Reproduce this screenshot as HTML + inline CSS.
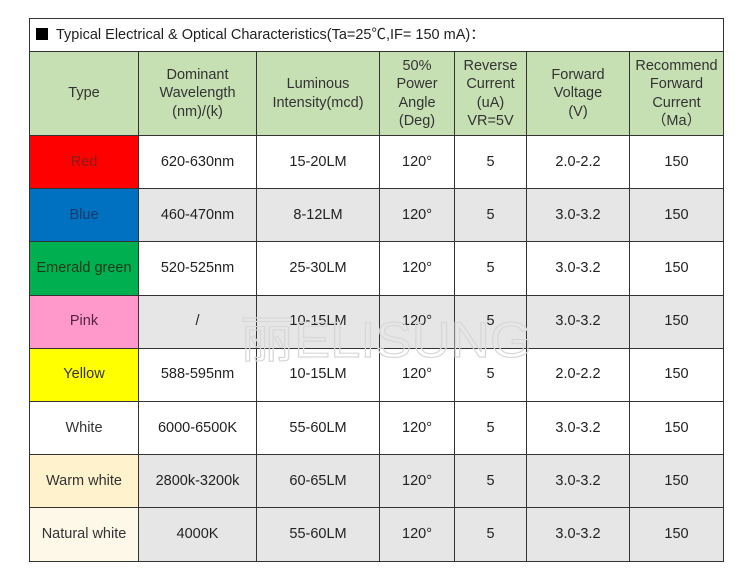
<!DOCTYPE html>
<html><head><meta charset="utf-8"><style>
html,body{margin:0;padding:0;background:#fff;width:750px;height:582px;overflow:hidden;position:relative}
table{position:absolute;left:29px;top:18px;border-collapse:collapse;table-layout:fixed;font-family:"Liberation Sans","Noto Sans CJK SC",sans-serif;color:#222}
td{border:1.5px solid #333;text-align:center;vertical-align:middle;font-size:14px;padding:0;line-height:19px}
.t td{height:32px;text-align:left;font-size:14.5px;padding-left:6px}
.h td{background:#c6e0b4;height:83px;font-size:14.5px;line-height:18.5px;color:#333}
.r td{height:52.2px;font-size:14.5px}
.g td{background:#e6e6e6}
.sq{display:inline-block;width:12px;height:12px;background:#000;margin-right:8px;vertical-align:-1px}
svg{position:absolute;left:0;top:0}
</style></head><body>
<table>
<colgroup><col style="width:109px"><col style="width:118px"><col style="width:123px"><col style="width:75px"><col style="width:72px"><col style="width:103px"><col style="width:94px"></colgroup>
<tr class="t"><td colspan="7"><span class="sq"></span>Typical Electrical &amp; Optical Characteristics(Ta=25℃,IF= 150 mA)：</td></tr>
<tr class="h"><td>Type</td><td>Dominant<br>Wavelength<br>(nm)/(k)</td><td>Luminous<br>Intensity(mcd)</td><td>50%<br>Power<br>Angle<br>(Deg)</td><td>Reverse<br>Current<br>(uA)<br>VR=5V</td><td>Forward<br>Voltage<br>(V)</td><td>Recommend<br>Forward<br>Current<br>（Ma）</td></tr>
<tr class="r"><td style="background:#ff0000;color:#8a1a1a">Red</td><td>620-630nm</td><td>15-20LM</td><td>120°</td><td>5</td><td>2.0-2.2</td><td>150</td></tr>
<tr class="r g"><td style="background:#0070c0;color:#1a3a6a">Blue</td><td>460-470nm</td><td>8-12LM</td><td>120°</td><td>5</td><td>3.0-3.2</td><td>150</td></tr>
<tr class="r"><td style="background:#00b050;color:#1a3a1a">Emerald green</td><td>520-525nm</td><td>25-30LM</td><td>120°</td><td>5</td><td>3.0-3.2</td><td>150</td></tr>
<tr class="r g"><td style="background:#ff99cc;color:#552244">Pink</td><td>/</td><td>10-15LM</td><td>120°</td><td>5</td><td>3.0-3.2</td><td>150</td></tr>
<tr class="r"><td style="background:#ffff00;color:#333">Yellow</td><td>588-595nm</td><td>10-15LM</td><td>120°</td><td>5</td><td>2.0-2.2</td><td>150</td></tr>
<tr class="r"><td style="background:#fff;color:#333">White</td><td>6000-6500K</td><td>55-60LM</td><td>120°</td><td>5</td><td>3.0-3.2</td><td>150</td></tr>
<tr class="r g"><td style="background:#fff2cc;color:#333">Warm white</td><td>2800k-3200k</td><td>60-65LM</td><td>120°</td><td>5</td><td>3.0-3.2</td><td>150</td></tr>
<tr class="r g"><td style="background:#fdf8e8;color:#333">Natural white</td><td>4000K</td><td>55-60LM</td><td>120°</td><td>5</td><td>3.0-3.2</td><td>150</td></tr>
</table>
<svg width="750" height="582"><text x="240" y="357" font-family="Liberation Sans,Noto Sans CJK SC,sans-serif" font-size="50" fill="none" stroke="#d8d8d8" stroke-width="1.2" textLength="292" lengthAdjust="spacingAndGlyphs">丽ELISUNG</text></svg>
</body></html>
